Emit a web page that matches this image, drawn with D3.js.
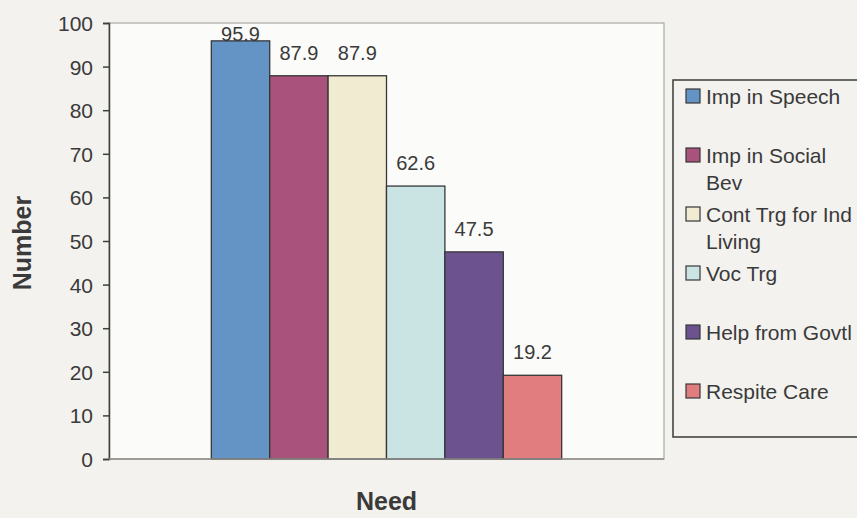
<!DOCTYPE html>
<html>
<head>
<meta charset="utf-8">
<script src="https://cdn.jsdelivr.net/npm/d3@7/dist/d3.min.js"></script>
<style>
  html, body { margin: 0; padding: 0; background: #f3f2ee; }
  svg { display: block; font-family: "Liberation Sans", Arial, sans-serif; }
</style>
</head>
<body>
<svg id="chart" width="857" height="518"></svg>
<script>
// Needs reported for children with ASD (percent of respondents)
const categories = ["Need"];
const seriesNames = ["Imp in Speech", "Imp in Social Bev", "Cont Trg for Ind Living", "Voc Trg", "Help from Govtl", "Respite Care"];
const legendLines = [["Imp in Speech"], ["Imp in Social", "Bev"], ["Cont Trg for Ind", "Living"], ["Voc Trg"], ["Help from Govtl"], ["Respite Care"]];
const seriesValues = [95.9, 87.9, 87.9, 62.6, 47.5, 19.2];
const seriesColors = ["#6493c6", "#a9527c", "#f1ebd2", "#c9e4e2", "#6d5290", "#e27d7f"];
const yTicks = [0, 10, 20, 30, 40, 50, 60, 70, 80, 90, 100];

const svg = d3.select("#chart");
const plot = { left: 109, right: 664, top: 23, bottom: 459 };
const textColor = "#3a3a3a";

// plot area
svg.append("rect")
  .attr("x", plot.left).attr("y", plot.top)
  .attr("width", plot.right - plot.left).attr("height", plot.bottom - plot.top)
  .attr("fill", "#fbfbf9").attr("stroke", "#a9a9a6").attr("stroke-width", 1.2);

const y = d3.scaleLinear().domain([0, 100]).range([plot.bottom, plot.top]);
const x0 = d3.scaleBand().domain(categories).range([plot.left, plot.right])
  .paddingInner(0).paddingOuter(0.292);
const x1 = d3.scaleBand().domain(seriesNames).range([0, x0.bandwidth()]).padding(0);

// y axis
const yAxis = svg.append("g")
  .attr("transform", `translate(${plot.left},0)`)
  .call(d3.axisLeft(y).tickValues(yTicks).tickSize(6).tickPadding(10).tickFormat(d3.format("d")));
yAxis.select(".domain").attr("stroke", "#3c3f3c").attr("stroke-width", 1.5);
yAxis.selectAll(".tick line").attr("stroke", "#3c3f3c").attr("stroke-width", 1.5);
yAxis.selectAll(".tick text").attr("fill", textColor).attr("font-size", 21).attr("dy", "0.36em");

// bars
const bars = svg.append("g").attr("transform", `translate(${x0("Need")},0)`);
const data = seriesNames.map((name, i) => ({ name, value: seriesValues[i], color: seriesColors[i] }));
bars.selectAll("rect").data(data).join("rect")
  .attr("x", d => x1(d.name))
  .attr("y", d => y(d.value))
  .attr("width", x1.bandwidth())
  .attr("height", d => y(0) - y(d.value))
  .attr("fill", d => d.color)
  .attr("stroke", "#363636").attr("stroke-width", 1.3);

// value labels above bars, kept inside the plot area
bars.selectAll("text").data(data).join("text")
  .attr("x", d => x1(d.name) + x1.bandwidth() / 2)
  .attr("y", d => Math.max(y(d.value) - 16, plot.top + 18))
  .attr("text-anchor", "middle")
  .attr("font-size", 20)
  .attr("fill", textColor)
  .text(d => d.value.toFixed(1));

// x baseline
svg.append("line")
  .attr("x1", plot.left).attr("x2", plot.right)
  .attr("y1", y(0)).attr("y2", y(0))
  .attr("stroke", "#8c8c8a").attr("stroke-width", 1.3);

// axis titles
svg.append("text")
  .attr("transform", `translate(31,${(plot.top + plot.bottom) / 2 + 2}) rotate(-90)`)
  .attr("text-anchor", "middle")
  .attr("font-size", 25).attr("font-weight", "bold").attr("fill", textColor)
  .text("Number");
svg.append("text")
  .attr("x", x0("Need") + x0.bandwidth() / 2).attr("y", 510)
  .attr("text-anchor", "middle")
  .attr("font-size", 25).attr("font-weight", "bold").attr("fill", textColor)
  .text(categories[0]);

// legend
const legend = svg.append("g");
legend.append("rect")
  .attr("x", 673).attr("y", 80).attr("width", 200).attr("height", 357)
  .attr("fill", "#f3f2ee").attr("stroke", "#3a3a3a").attr("stroke-width", 1.5);
const item = legend.selectAll("g.item").data(data).join("g")
  .attr("class", "item")
  .attr("transform", (d, i) => `translate(686,${96 + i * 59})`);
item.append("rect")
  .attr("x", 0).attr("y", -7).attr("width", 14).attr("height", 14)
  .attr("fill", d => d.color).attr("stroke", "#363636").attr("stroke-width", 1.2);
item.append("text")
  .attr("x", 20)
  .attr("font-size", 21).attr("fill", textColor)
  .selectAll("tspan").data((d, i) => legendLines[i]).join("tspan")
  .attr("x", 20)
  .attr("y", (d, j) => j * 27)
  .attr("dy", "0.36em")
  .text(d => d);
</script>
</body>
</html>
